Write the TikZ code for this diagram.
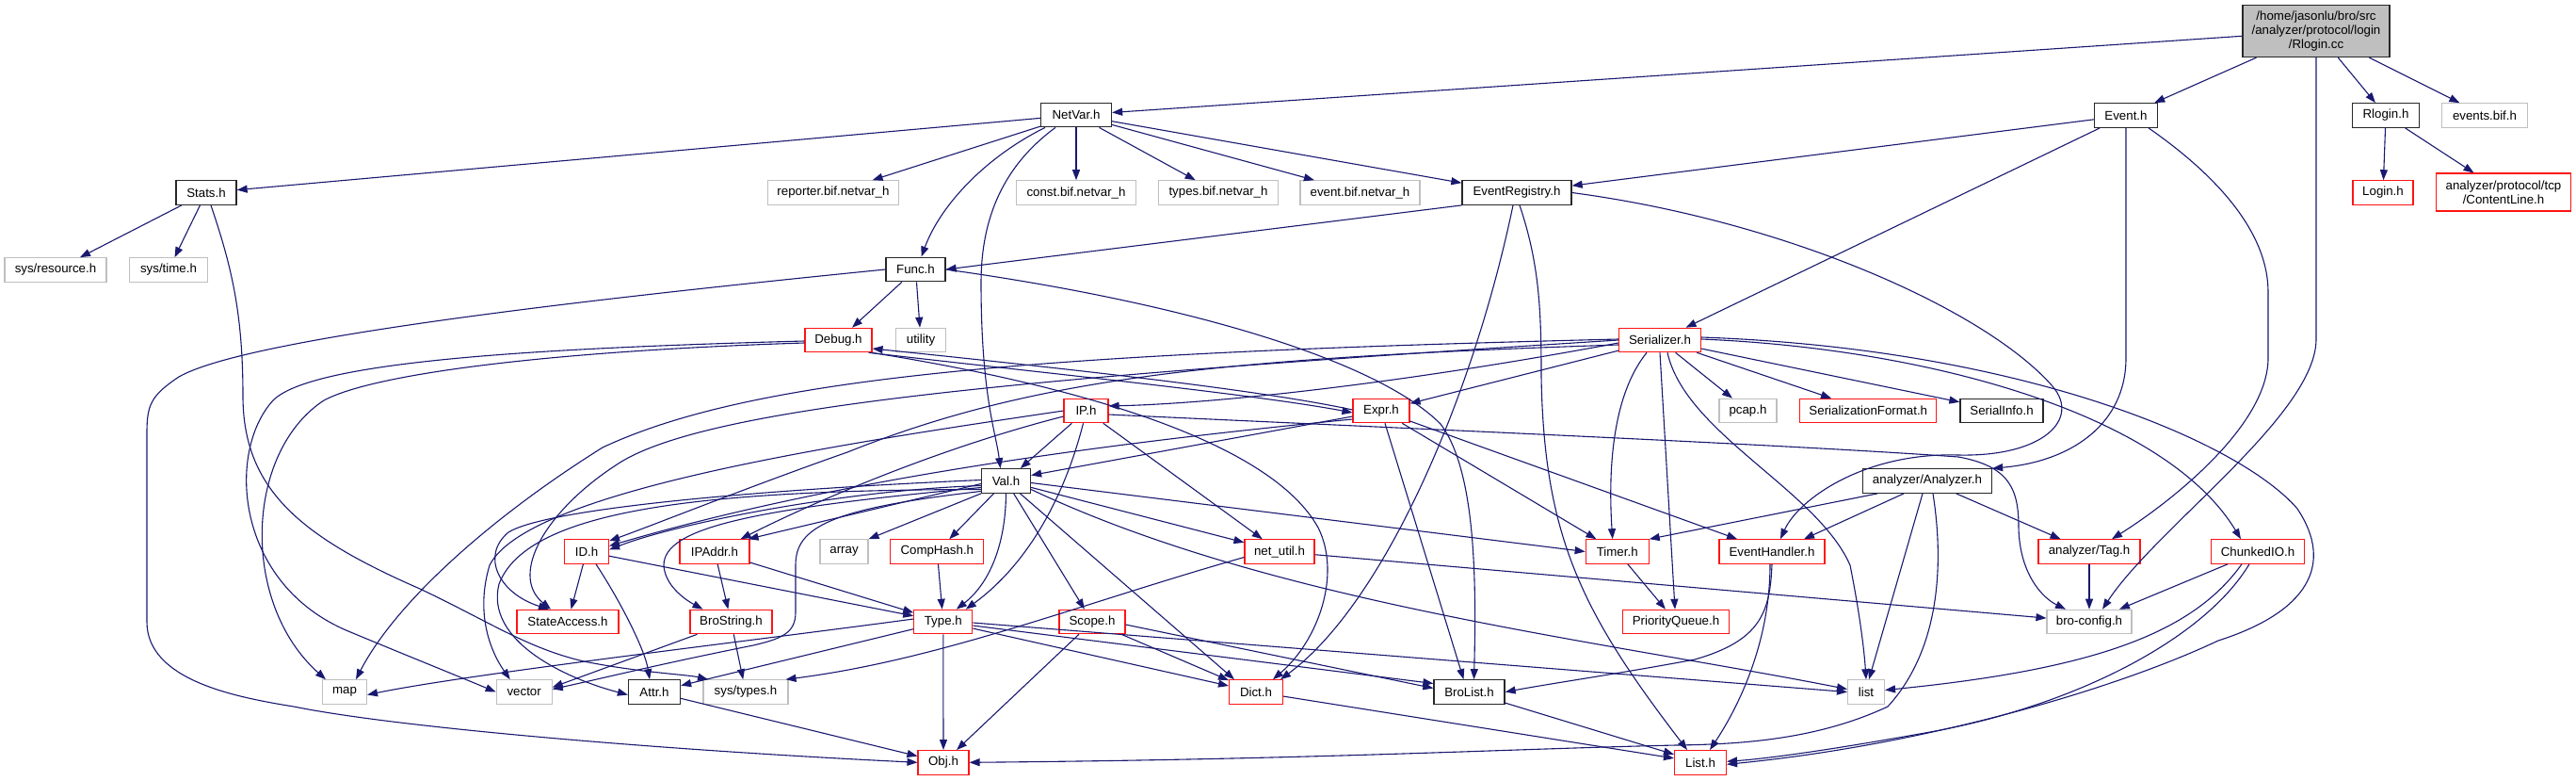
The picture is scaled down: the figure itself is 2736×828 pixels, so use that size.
\documentclass[tikz,border=0pt]{standalone}
\usepackage{fontspec}
\setmainfont{Liberation Sans}
\usetikzlibrary{arrows.meta}
\definecolor{edgec}{RGB}{25,25,112}
\definecolor{grayb}{RGB}{191,191,191}
\definecolor{darkb}{RGB}{40,40,40}
\definecolor{redb}{RGB}{255,20,20}
\newcommand{\dgfont}{\fontsize{13.3}{15}\selectfont}
\tikzset{
  nd/.style={draw, line width=1.1pt, fill=white, minimum height=25.5, inner sep=1pt, font=\dgfont},
  bk/.style={nd, draw=darkb, line width=1.3pt},
  gy/.style={nd, draw=grayb},
  rd/.style={nd, draw=redb},
  rt/.style={nd, draw=darkb, line width=1.3pt, fill=grayb},
  ed/.style={draw=edgec, line width=1.1pt, -{Triangle[length=11pt,width=8pt]}},
}
\begin{document}
\begin{tikzpicture}[x=1pt,y=-1pt]
\fill[white] (0,0) rectangle (2736,828);
\useasboundingbox (0,0) rectangle (2736,828);
% nodes
\node[rt, minimum width=156, minimum height=55, align=center] (root) at (2460,33) {/home/jasonlu/bro/src\\/analyzer/protocol/login\\/Rlogin.cc};
\node[bk, minimum width=75] (netvar) at (1143,122) {NetVar.h};
\node[bk, minimum width=67] (event) at (2258,122.5) {Event.h};
\node[bk, minimum width=71] (rloginh) at (2534,122.5) {Rlogin.h};
\node[gy, minimum width=91] (eventsbif) at (2639,122.5) {events.bif.h};
\node[bk, minimum width=64] (stats) at (219,204.5) {Stats.h};
\node[gy, minimum width=139] (reporter) at (885,204.5) {reporter.bif.netvar\_h};
\node[gy, minimum width=127] (constbif) at (1143,204.5) {const.bif.netvar\_h};
\node[gy, minimum width=127] (typesbif) at (1294,204.5) {types.bif.netvar\_h};
\node[gy, minimum width=127] (eventbif) at (1444.5,204.5) {event.bif.netvar\_h};
\node[bk, minimum width=116] (evreg) at (1611,204.5) {EventRegistry.h};
\node[rd, minimum width=64] (login) at (2531,204.5) {Login.h};
\node[rd, minimum width=143, minimum height=40, align=center] (contentline) at (2659,204) {analyzer/protocol/tcp\\/ContentLine.h};
\node[gy, minimum width=108] (sysres) at (59,286.5) {sys/resource.h};
\node[gy, minimum width=83] (systime) at (179,286.5) {sys/time.h};
\node[bk, minimum width=63] (func) at (972.5,286) {Func.h};
\node[rd, minimum width=71] (debug) at (890.5,361) {Debug.h};
\node[gy, minimum width=53] (utility) at (978,361) {utility};
\node[rd, minimum width=87] (serializer) at (1763,361) {Serializer.h};
\node[rd, minimum width=47] (ip) at (1153.5,436) {IP.h};
\node[rd, minimum width=60] (expr) at (1467,436) {Expr.h};
\node[gy, minimum width=61] (pcap) at (1856.5,436) {pcap.h};
\node[rd, minimum width=145] (serformat) at (1984.3,436) {SerializationFormat.h};
\node[bk, minimum width=88] (serialinfo) at (2126,436) {SerialInfo.h};
\node[bk, minimum width=52] (val) at (1068.5,510.5) {Val.h};
\node[bk, minimum width=137] (analyzer) at (2047,510.5) {analyzer/Analyzer.h};
\node[rd, minimum width=47] (id) at (623,585.5) {ID.h};
\node[rd, minimum width=74] (ipaddr) at (759,585.5) {IPAddr.h};
\node[gy, minimum width=51] (array) at (896.5,585.5) {array};
\node[rd, minimum width=99] (comphash) at (995.3,585.5) {CompHash.h};
\node[rd, minimum width=74] (netutil) at (1359,585.5) {net\_util.h};
\node[rd, minimum width=67] (timer) at (1717.7,585.5) {Timer.h};
\node[rd, minimum width=112] (evhandler) at (1882,585.5) {EventHandler.h};
\node[rd, minimum width=108] (tag) at (2219,585.5) {analyzer/Tag.h};
\node[rd, minimum width=99] (chunked) at (2398,585.5) {ChunkedIO.h};
\node[rd, minimum width=108] (stateaccess) at (603,660) {StateAccess.h};
\node[rd, minimum width=87] (brostring) at (776.5,660) {BroString.h};
\node[rd, minimum width=62] (type) at (1001.8,660) {Type.h};
\node[rd, minimum width=70] (scope) at (1160,660) {Scope.h};
\node[rd, minimum width=113] (pq) at (1780,660) {PriorityQueue.h};
\node[gy, minimum width=90] (broconfig) at (2219,660) {bro-config.h};
\node[gy, minimum width=47] (map) at (366,734.5) {map};
\node[gy, minimum width=59] (vector) at (556.7,734.5) {vector};
\node[bk, minimum width=55] (attr) at (695,734.5) {Attr.h};
\node[gy, minimum width=90] (systypes) at (792,734.5) {sys/types.h};
\node[rd, minimum width=57] (dict) at (1334,734.5) {Dict.h};
\node[bk, minimum width=75] (brolist) at (1560.5,734.5) {BroList.h};
\node[gy, minimum width=39] (lst) at (1982,734.5) {list};
\node[rd, minimum width=54] (obj) at (1002,809.3) {Obj.h};
\node[rd, minimum width=55] (listh) at (1806,809.3) {List.h};
% root
\draw[ed] (root) -- (netvar);
\draw[ed] (root) -- (event);
\draw[ed] (root) -- (rloginh);
\draw[ed] (root) -- (eventsbif);
\draw[ed] (root.south) -- (2460,360) .. controls (2460,440) and (2290,560) .. ([xshift=14]broconfig.north);
% NetVar
\draw[ed] (netvar) -- (stats);
\draw[ed] (netvar) -- (reporter);
\draw[ed] ([xshift=-33]netvar.south) .. controls (1050,165) and (1000,215) .. ([xshift=6]func.north);
\draw[ed] ([xshift=-22]netvar.south) .. controls (1060,180) and (1042,240) .. (1042,300) .. controls (1042,420) and (1058,460) .. ([xshift=-6]val.north);
\draw[ed] (netvar) -- (constbif);
\draw[ed] (netvar) -- (typesbif);
\draw[ed] (netvar) -- (eventbif);
\draw[ed] (netvar) -- (evreg);
% Event
\draw[ed] (event) -- (evreg);
\draw[ed] (event) -- (serializer);
\draw[ed] (event.south) -- (2258,380) .. controls (2258,450) and (2200,490) .. (analyzer.north east);
\draw[ed] ([xshift=24]event.south) .. controls (2360,190) and (2409,250) .. (2409,310) -- (2409,380) .. controls (2409,450) and (2310,530) .. ([xshift=24]tag.north);
% Rlogin.h
\draw[ed] (rloginh) -- (login);
\draw[ed] (rloginh) -- (contentline);
% EventRegistry
\draw[ed] (evreg.south west) -- (func.east);
\draw[ed] ([xshift=-4]evreg.south) .. controls (1565,420) and (1470,640) .. ([xshift=26]dict.north);
\draw[ed] ([xshift=3]evreg.south) .. controls (1635,280) and (1637,330) .. (1637,400) .. controls (1640,570) and (1680,650) .. ([xshift=-14]listh.north);
\draw[ed] (evreg.east) .. controls (1900,235) and (2110,330) .. (2180,410) .. controls (2210,445) and (2170,485) .. (2080,483) .. controls (1980,480) and (1910,530) .. ([xshift=9]evhandler.north);
% Func
\draw[ed] (func) -- (debug);
\draw[ed] (func) -- (utility);
\draw[ed] (func.east) .. controls (1250,320) and (1460,380) .. (1530,450) .. controls (1568,500) and (1568,620) .. ([xshift=5]brolist.north);
\draw[ed] (func.west) .. controls (600,320) and (260,360) .. (190,400) .. controls (160,420) and (156,430) .. (156,460) -- (156,660) .. controls (156,722) and (250,740) .. (312,750) .. controls (420,772) and (700,796) .. (obj.west);
% Stats
\draw[ed] (stats) -- (sysres);
\draw[ed] (stats) -- (systime);
\draw[ed] ([xshift=5]stats.south) .. controls (245,280) and (258,330) .. (258,420) .. controls (258,520) and (320,570) .. (446,625) .. controls (520,660) and (560,688) .. (620,702) .. controls (680,714) and (730,716) .. ([xshift=-40]systypes.north);
% Debug / Expr
\draw[ed] ([xshift=-4]debug.south east) .. controls (1100,395) and (1330,418) .. ([yshift=-2]expr.west);
\draw[ed] ([yshift=1]expr.west) .. controls (1330,412) and (1100,388) .. ([yshift=-9]debug.east);
\draw[ed] ([xshift=-1]debug.south east) .. controls (1150,410) and (1350,470) .. (1400,560) .. controls (1425,610) and (1400,680) .. ([xshift=18]dict.north);
\draw[ed] ([yshift=-3]debug.west) .. controls (600,372) and (400,395) .. (344,425) .. controls (260,480) and (255,640) .. ([xshift=-20]map.north);
\draw[ed] ([yshift=-1]debug.west) .. controls (550,370) and (330,385) .. (290,425) .. controls (240,480) and (250,620) .. (370,670) .. controls (430,695) and (480,715) .. (vector.west);
\draw[ed] ([xshift=4]expr.south) -- ([xshift=-6]brolist.north);
\draw[ed] (expr) -- (timer);
\draw[ed] (expr) -- (evhandler);
\draw[ed] ([yshift=-6]expr.west) -- ([yshift=6]val.east);
\draw[ed] ([yshift=-9]expr.west) .. controls (1200,468) and (900,505) .. ([yshift=6]id.east);
% Serializer
\draw[ed] (serializer) -- (expr);
\draw[ed] ([yshift=-3]serializer.west) .. controls (1500,405) and (1300,428) .. ([yshift=5]ip.east);
\draw[ed] (serializer) -- (pcap);
\draw[ed] (serializer) -- (serformat);
\draw[ed] (serializer) -- (serialinfo);
\draw[ed] ([xshift=-14]serializer.south) .. controls (1712,420) and (1708,500) .. ([xshift=-5]timer.north);
\draw[ed] (serializer.south) -- ([xshift=-1]pq.north);
\draw[ed] ([xshift=8]serializer.south) .. controls (1790,460) and (1930,520) .. (1965,600) .. controls (1975,650) and (1980,690) .. (lst.north);
\draw[ed] ([yshift=1]serializer.east) .. controls (2050,370) and (2300,440) .. ([xshift=-18]chunked.north);
\draw[ed] ([yshift=3]serializer.east) .. controls (2150,370) and (2380,470) .. (2440,540) .. controls (2480,600) and (2450,650) .. (2356,680) .. controls (2250,730) and (2050,790) .. ([yshift=-2]listh.east);
\draw[ed] ([yshift=1]serializer.west) .. controls (1100,375) and (800,400) .. (640,475) .. controls (520,550) and (420,640) .. ([xshift=12]map.north);
\draw[ed] (serializer.west) .. controls (1100,400) and (760,430) .. (660,490) .. controls (580,540) and (540,610) .. ([xshift=-18]stateaccess.north);
\draw[ed] ([yshift=-5]serializer.west) .. controls (1300,380) and (1100,400) .. (900,480) .. controls (800,515) and (700,555) .. ([yshift=-2]id.north east);
% IP
\draw[ed] (ip) -- (val);
\draw[ed] ([xshift=-3]ip.south) .. controls (1130,530) and (1090,600) .. ([xshift=24]type.north);
\draw[ed] (ip) -- (netutil);
\draw[ed] ([yshift=-6]ip.west) .. controls (1000,475) and (870,530) .. ([xshift=-10]ipaddr.north east);
\draw[ed] (ip.west) .. controls (900,470) and (560,520) .. (520,600) .. controls (505,650) and (520,690) .. ([xshift=-15]vector.north);
\draw[ed] ([yshift=-4]ip.east) .. controls (1500,455) and (1900,472) .. (2080,485) .. controls (2135,495) and (2144,520) .. (2144,560) .. controls (2145,610) and (2170,635) .. ([xshift=-25]broconfig.north);
% Val
\draw[ed] ([yshift=-5]val.west) .. controls (900,520) and (720,555) .. ([yshift=2]id.east);
\draw[ed] ([yshift=1]val.west) .. controls (800,520) and (580,540) .. (540,565) .. controls (510,590) and (530,630) .. ([xshift=-20]stateaccess.north);
\draw[ed] ([yshift=-3]val.west) -- ([xshift=-2]ipaddr.north east);
\draw[ed] ([yshift=-7]val.west) .. controls (800,540) and (705,560) .. (705,600) .. controls (706,620) and (725,635) .. ([xshift=-30]brostring.north);
\draw[ed] (val.south west) -- (array.north east);
\draw[ed] (val) -- (comphash);
\draw[ed] (val.south) .. controls (1068,580) and (1050,620) .. ([xshift=14]type.north);
\draw[ed] (val) -- (scope);
\draw[ed] ([xshift=15]val.south) -- ([xshift=-23]dict.north);
\draw[ed] (val) -- (netutil);
\draw[ed] ([yshift=-2]val.east) -- (timer.west);
\draw[ed] ([yshift=-9]val.east) .. controls (1350,640) and (1700,680) .. ([yshift=3]lst.west);
\draw[ed] ([yshift=-9]val.west) .. controls (750,520) and (560,540) .. (530,620) .. controls (515,680) and (600,720) .. ([yshift=-3]attr.west);
\draw[ed] ([yshift=-11]val.west) .. controls (880,540) and (845,560) .. (845,600) -- (845,650) .. controls (845,672) and (830,678) .. (800,685) .. controls (700,705) and (640,720) .. ([yshift=3]vector.east);
% ID
\draw[ed] (id) -- (stateaccess);
\draw[ed] ([xshift=10]id.south) .. controls (660,640) and (685,690) .. ([xshift=-5]attr.north);
\draw[ed] (id) -- (type);
% IPAddr, BroString, CompHash
\draw[ed] (ipaddr) -- (brostring);
\draw[ed] (ipaddr) -- (type);
\draw[ed] ([xshift=8]brostring.south west) -- ([yshift=5]vector.east);
\draw[ed] (brostring) -- (systypes);
\draw[ed] (comphash) -- (type);
% Type
\draw[ed] (type) -- (obj);
\draw[ed] (type) -- (attr);
\draw[ed] ([yshift=3]type.west) .. controls (800,680) and (500,715) .. ([yshift=-3]map.east);
\draw[ed] ([yshift=-4]type.east) -- ([yshift=9]brolist.west);
\draw[ed] (type) -- (dict);
\draw[ed] ([yshift=-1]type.east) -- ([yshift=0]lst.west);
% Scope
\draw[ed] (scope) -- (dict);
\draw[ed] (scope) -- (obj);
\draw[ed] ([yshift=-3]scope.east) -- ([yshift=4]brolist.west);
% net_util
\draw[ed] (netutil) -- (broconfig);
\draw[ed] ([yshift=-6]netutil.west) .. controls (1150,640) and (1000,700) .. ([xshift=-3]systypes.north east);
% leaves
\draw[ed] (attr) -- (obj);
\draw[ed] (dict) -- (listh);
\draw[ed] (brolist) -- (listh);
\draw[ed] (timer) -- (pq);
\draw[ed] (evhandler.south) .. controls (1880,650) and (1870,680) .. (1800,700) .. controls (1720,715) and (1650,725) .. (brolist.east);
\draw[ed] ([xshift=-2]evhandler.south) .. controls (1880,690) and (1840,760) .. ([xshift=10]listh.north);
% Analyzer
\draw[ed] ([xshift=-53]analyzer.south) -- (timer.north east);
\draw[ed] ([xshift=-25]analyzer.south) -- ([xshift=34]evhandler.north);
\draw[ed] ([xshift=-5]analyzer.south) -- ([xshift=3]lst.north);
\draw[ed] (analyzer) -- (tag);
\draw[ed] ([xshift=6]analyzer.south) .. controls (2065,600) and (2060,690) .. (2005,750) .. controls (1930,785) and (1850,790) .. (1780,791) .. controls (1600,795) and (1400,806) .. (obj.east);
% Tag, ChunkedIO
\draw[ed] (tag) -- (broconfig);
\draw[ed] (chunked) -- (broconfig);
\draw[ed] ([xshift=-17]chunked.south) .. controls (2330,670) and (2230,710) .. ([yshift=2]lst.east);
\draw[ed] ([xshift=-9]chunked.south) .. controls (2340,680) and (2200,750) .. (2050,777) .. controls (1950,795) and (1880,805) .. ([yshift=1]listh.east);
\end{tikzpicture}
\end{document}
